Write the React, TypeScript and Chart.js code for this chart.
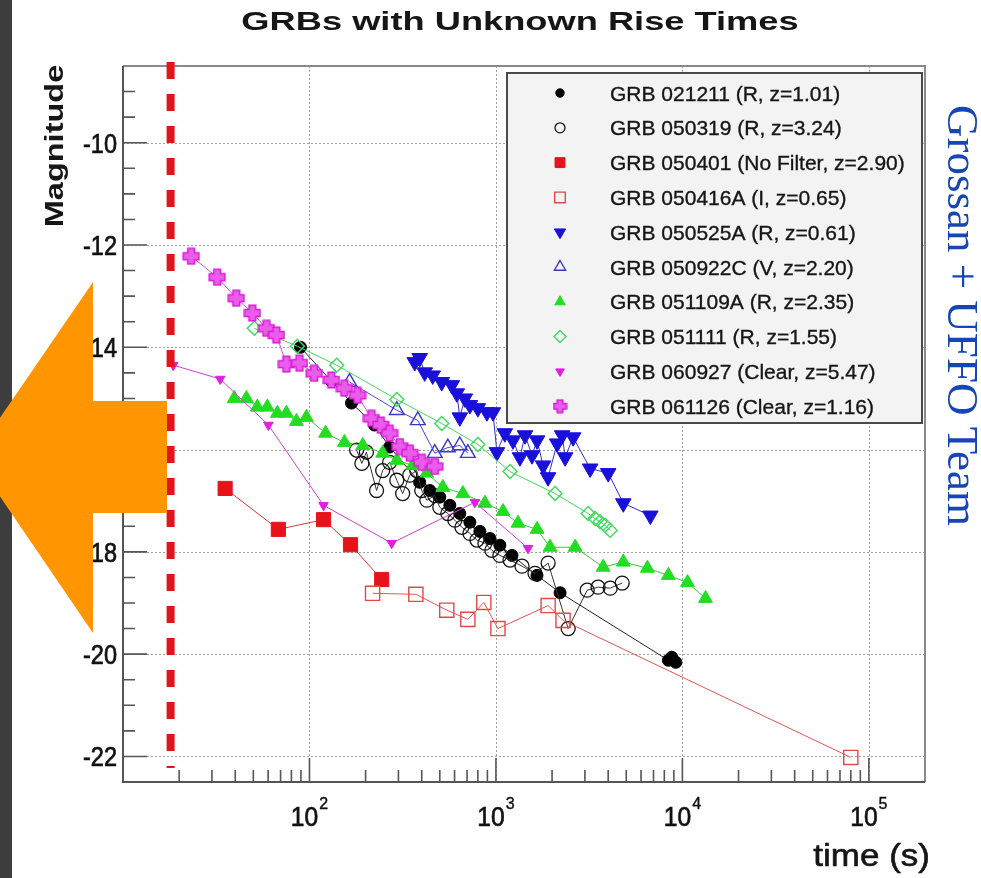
import React, { useEffect, useRef } from 'react';
import { Chart, registerables } from 'chart.js';

Chart.register(...registerables);

// ---------------- data ----------------
const SERIES_LABELS = [
  'GRB 021211 (R, z=1.01)',
  'GRB 050319 (R, z=3.24)',
  'GRB 050401 (No Filter, z=2.90)',
  'GRB 050416A (I, z=0.65)',
  'GRB 050525A (R, z=0.61)',
  'GRB 050922C (V, z=2.20)',
  'GRB 051109A (R, z=2.35)',
  'GRB 051111 (R, z=1.55)',
  'GRB 060927 (Clear, z=5.47)',
  'GRB 061126 (Clear, z=1.16)',
];

const T_021211 = [89.5, 131, 168, 223, 269, 390, 442, 500, 566, 640, 725, 820, 929, 1050, 1219, 1660, 2208, 8410, 8770, 9220];
const M_021211 = [-14.0, -14.66, -15.09, -15.52, -15.95, -16.64, -16.8, -16.93, -17.09, -17.25, -17.42, -17.6, -17.74, -17.87, -18.07, -18.46, -18.8, -20.12, -20.06, -20.16];

const T_050319 = [179, 191, 202, 229, 247, 269, 294, 316, 345, 376, 400, 426, 470, 500, 552, 602, 657, 725, 791, 873, 951, 1050, 1190, 1380, 1620, 1905, 2440, 3085, 3530, 4100, 4755];
const M_050319 = [-16.01, -16.27, -16.05, -16.8, -16.41, -16.25, -16.6, -16.86, -16.5, -16.41, -16.8, -16.99, -16.9, -17.13, -17.25, -17.38, -17.52, -17.64, -17.77, -17.83, -17.97, -18.07, -18.16, -18.28, -18.42, -18.22, -19.5, -18.75, -18.69, -18.71, -18.61];

const T_050401 = [35.3, 68.1, 119, 166, 244];
const M_050401 = [-16.76, -17.56, -17.37, -17.86, -18.54];

const T_050416A = [218, 372, 545, 707, 861, 1025, 1905, 2290, 80000];
const M_050416A = [-18.81, -18.83, -19.14, -19.32, -18.99, -19.5, -19.05, -19.34, -22.02];

const T_050525A = [367, 390, 415, 458, 512, 580, 617, 640, 681, 725, 800, 895, 964, 1012, 1116, 1234, 1345, 1432, 1562, 1662, 1790, 1904, 2130, 2265, 2350, 2595, 3200, 4000, 4820, 6730];
const M_050525A = [-14.29, -14.21, -14.49, -14.55, -14.68, -14.74, -14.9, -15.37, -15.0, -15.13, -15.19, -15.27, -15.27, -16.05, -15.68, -15.82, -16.15, -15.72, -16.11, -15.82, -16.31, -16.54, -15.88, -15.72, -16.15, -15.76, -16.37, -16.46, -17.05, -17.29];

const T_050922C = [164, 294, 381, 470, 552, 640, 707];
const M_050922C = [-14.68, -15.23, -15.43, -16.07, -15.96, -15.92, -16.07];

const T_051109A = [39.5, 45.9, 52.5, 59.4, 67.3, 75.2, 85.1, 96.3, 122, 154, 193, 247, 294, 358, 426, 519, 665, 873, 1091, 1313, 1662, 1950, 2660, 3760, 4820, 6490, 8410, 10650, 13300];
const M_051109A = [-15.0, -15.0, -15.17, -15.17, -15.29, -15.29, -15.45, -15.37, -15.68, -15.86, -15.92, -16.07, -16.21, -16.31, -16.46, -16.74, -16.86, -17.05, -17.21, -17.44, -17.56, -17.91, -17.91, -18.3, -18.2, -18.32, -18.46, -18.6, -18.91];

const T_051111 = [50.6, 86.1, 140, 294, 512, 800, 1190, 2075, 3125, 3405, 3620, 3850, 4100];
const M_051111 = [-13.63, -13.98, -14.35, -15.02, -15.49, -15.9, -16.43, -16.86, -17.25, -17.35, -17.41, -17.48, -17.58];

const T_060927 = [18.6, 33.2, 60.2, 119, 276, 771, 1486];
const M_060927 = [-14.35, -14.62, -15.52, -17.09, -17.83, -17.03, -17.93];

const T_061126 = [23.2, 32.0, 40.5, 49.4, 58.8, 66.5, 75.2, 88.4, 106, 131, 154, 181, 215, 241, 269, 305, 345, 400, 470];
const M_061126 = [-12.22, -12.63, -13.04, -13.33, -13.63, -13.76, -14.33, -14.31, -14.51, -14.64, -14.8, -14.94, -15.39, -15.52, -15.68, -15.94, -16.07, -16.25, -16.33];

const SERIES_T = [T_021211, T_050319, T_050401, T_050416A, T_050525A, T_050922C, T_051109A, T_051111, T_060927, T_061126];
const SERIES_M = [M_021211, M_050319, M_050401, M_050416A, M_050525A, M_050922C, M_051109A, M_051111, M_060927, M_061126];

const X_TICK_EXPONENTS = [2, 3, 4, 5];
const Y_TICK_VALUES = [-10, -12, -14, -16, -18, -20, -22];
const X_MIN = 10;
const X_MAX = 2e5;
const Y_MIN = -22.5;
const Y_MAX = -8.5;
const LIMIT_T = 18; // red dashed line (time, s)

const TITLE = 'GRBs with Unknown Rise Times';
const Y_TITLE = 'Magnitude';
const X_TITLE = 'time (s)';
const CREDIT = 'Grossan + UFFO Team';

// ---------------- styles ----------------
type Shape = 'circle' | 'rect' | 'triangle' | 'triangleDown' | 'rectRot' | 'cross';
interface Sty { shape: Shape; r: number; lr: number; fill: string | null; stroke: string; line: string; bw: number }
const STYLES: Sty[] = [
  { shape: 'circle', r: 6, lr: 4.2, fill: '#000000', stroke: '#000000', line: '#222222', bw: 1 },
  { shape: 'circle', r: 7, lr: 5, fill: null, stroke: '#111111', line: '#333333', bw: 1.3 },
  { shape: 'rect', r: 10, lr: 7, fill: '#e5141b', stroke: '#e5141b', line: '#e03535', bw: 1 },
  { shape: 'rect', r: 10, lr: 7.5, fill: null, stroke: '#e24848', line: '#e55555', bw: 1.4 },
  { shape: 'triangleDown', r: 9, lr: 6.5, fill: '#1a10dc', stroke: '#1a10dc', line: '#3030d0', bw: 1 },
  { shape: 'triangle', r: 8.5, lr: 6.5, fill: null, stroke: '#3a36d0', line: '#4a46d8', bw: 1.4 },
  { shape: 'triangle', r: 8, lr: 6, fill: '#22dd22', stroke: '#22dd22', line: '#33cc33', bw: 1 },
  { shape: 'rectRot', r: 7, lr: 6, fill: null, stroke: '#3ddc5a', line: '#44d860', bw: 1.4 },
  { shape: 'triangleDown', r: 5.5, lr: 5, fill: '#e020e0', stroke: '#e020e0', line: '#d040d0', bw: 1 },
  { shape: 'cross', r: 9, lr: 7, fill: '#ea5cea', stroke: '#d81cd8', line: '#d850d8', bw: 1.3 },
];

const FONT = "'Liberation Sans', Arial, Helvetica, sans-serif";

function makeCross(size: number, fill: string, stroke: string) {
  const c = document.createElement('canvas');
  c.width = size;
  c.height = size;
  const g = c.getContext('2d')!;
  const m = size / 2, L = size / 2 - 1.2, w = size * 0.19;
  g.beginPath();
  g.moveTo(m - w, m - L); g.lineTo(m + w, m - L); g.lineTo(m + w, m - w); g.lineTo(m + L, m - w);
  g.lineTo(m + L, m + w); g.lineTo(m + w, m + w); g.lineTo(m + w, m + L); g.lineTo(m - w, m + L);
  g.lineTo(m - w, m + w); g.lineTo(m - L, m + w); g.lineTo(m - L, m - w); g.lineTo(m - w, m - w);
  g.closePath();
  g.fillStyle = fill; g.fill();
  g.strokeStyle = stroke; g.lineWidth = 1.5; g.stroke();
  return c;
}

function drawMarker(ctx: CanvasRenderingContext2D, s: Sty, x: number, y: number, r: number, crossImg: HTMLCanvasElement | null) {
  if (s.shape === 'cross') {
    if (crossImg) ctx.drawImage(crossImg, x - crossImg.width / 2, y - crossImg.height / 2);
    return;
  }
  ctx.save();
  ctx.beginPath();
  if (s.shape === 'circle') ctx.arc(x, y, r, 0, Math.PI * 2);
  else if (s.shape === 'rect') { const h = r * Math.SQRT1_2; ctx.rect(x - h, y - h, 2 * h, 2 * h); }
  else if (s.shape === 'rectRot') { ctx.moveTo(x, y - r); ctx.lineTo(x + r, y); ctx.lineTo(x, y + r); ctx.lineTo(x - r, y); ctx.closePath(); }
  else {
    let rad = s.shape === 'triangleDown' ? Math.PI : 0;
    ctx.moveTo(x + Math.sin(rad) * r, y - Math.cos(rad) * r);
    rad += (2 * Math.PI) / 3;
    ctx.lineTo(x + Math.sin(rad) * r, y - Math.cos(rad) * r);
    rad += (2 * Math.PI) / 3;
    ctx.lineTo(x + Math.sin(rad) * r, y - Math.cos(rad) * r);
    ctx.closePath();
  }
  if (s.fill) { ctx.fillStyle = s.fill; ctx.fill(); }
  ctx.strokeStyle = s.stroke; ctx.lineWidth = s.bw; ctx.stroke();
  ctx.restore();
}

function text(ctx: CanvasRenderingContext2D, s: string, x: number, y: number, font: string, color: string,
  align: CanvasTextAlign, sx = 1, rot = 0, thick = 0) {
  ctx.save();
  ctx.translate(x, y);
  if (rot) ctx.rotate(rot);
  ctx.scale(sx, 1);
  ctx.font = font;
  ctx.fillStyle = color;
  ctx.textAlign = align;
  ctx.textBaseline = 'alphabetic';
  ctx.fillText(s, 0, 0);
  if (thick > 0) { ctx.strokeStyle = color; ctx.lineWidth = thick; ctx.strokeText(s, 0, 0); }
  ctx.restore();
}

export default function App() {
  const ref = useRef<HTMLCanvasElement | null>(null);

  useEffect(() => {
    if (!ref.current) return;
    const cross = makeCross(18, STYLES[9].fill as string, STYLES[9].stroke);
    const crossSmall = makeCross(15, STYLES[9].fill as string, STYLES[9].stroke);

    const datasets = SERIES_LABELS.map((label, i) => {
      const s = STYLES[i];
      const ps: any = s.shape === 'cross' ? cross : s.shape === 'triangleDown' ? 'triangle' : s.shape;
      return {
        label,
        data: SERIES_T[i].map((t, k) => ({ x: t, y: SERIES_M[i][k] })),
        showLine: true,
        borderColor: s.line,
        borderWidth: 1,
        pointStyle: ps,
        pointRotation: s.shape === 'triangleDown' ? 180 : 0,
        pointRadius: s.r,
        pointHoverRadius: s.r,
        pointBackgroundColor: s.fill || 'rgba(0,0,0,0)',
        pointBorderColor: s.stroke,
        pointBorderWidth: s.bw,
        tension: 0,
        order: 10 - i,
      };
    });

    const decor = {
      id: 'decor',
      beforeDraw(chart: any) {
        const ctx = chart.ctx as CanvasRenderingContext2D;
        ctx.save();
        ctx.fillStyle = '#ffffff';
        ctx.fillRect(0, 0, chart.width, chart.height);
        ctx.restore();
      },
      beforeDatasetsDraw(chart: any) {
        const ctx = chart.ctx as CanvasRenderingContext2D;
        const a = chart.chartArea;
        const xs = chart.scales.x, ys = chart.scales.y;
        ctx.save();
        ctx.strokeStyle = '#a0a0a0';
        ctx.lineWidth = 1;
        ctx.setLineDash([2, 2]);
        ctx.beginPath();
        for (const e of X_TICK_EXPONENTS) {
          const px = Math.round(xs.getPixelForValue(Math.pow(10, e))) + 0.5;
          ctx.moveTo(px, a.top); ctx.lineTo(px, a.bottom);
        }
        for (const v of Y_TICK_VALUES) {
          const py = Math.round(ys.getPixelForValue(v)) + 0.5;
          ctx.moveTo(a.left, py); ctx.lineTo(a.right, py);
        }
        ctx.stroke();
        ctx.restore();
      },
      afterDatasetsDraw(chart: any) {
        const ctx = chart.ctx as CanvasRenderingContext2D;
        const a = chart.chartArea;
        const xs = chart.scales.x, ys = chart.scales.y;

        // ticks (inside frame)
        ctx.save();
        ctx.strokeStyle = '#555555';
        ctx.lineWidth = 1.6;
        ctx.beginPath();
        for (let v = Y_MIN; v <= Y_MAX + 1e-6; v += 0.5) {
          const py = ys.getPixelForValue(v);
          const major = Math.abs(v % 2) < 1e-6;
          ctx.moveTo(a.left, py); ctx.lineTo(a.left + (major ? 24 : 12), py);
        }
        for (let k = 1; k <= 5; k++) {
          for (let m = 1; m <= 9; m++) {
            const v = m * Math.pow(10, k);
            if (v < X_MIN || v > X_MAX) continue;
            const px = xs.getPixelForValue(v);
            ctx.moveTo(px, a.bottom); ctx.lineTo(px, a.bottom - (m === 1 ? 24 : 12));
          }
        }
        ctx.stroke();
        ctx.restore();

        // frame
        ctx.save();
        ctx.lineWidth = 2;
        ctx.strokeStyle = '#8a8a8a';
        ctx.beginPath();
        ctx.moveTo(a.left, a.top); ctx.lineTo(a.right, a.top); ctx.lineTo(a.right, a.bottom);
        ctx.stroke();
        ctx.strokeStyle = '#555555';
        ctx.beginPath();
        ctx.moveTo(a.left, a.top); ctx.lineTo(a.left, a.bottom); ctx.lineTo(a.right, a.bottom);
        ctx.stroke();
        ctx.restore();

        // y tick labels
        for (const v of Y_TICK_VALUES) {
          const py = ys.getPixelForValue(v);
          text(ctx, String(v), 117, py + 10, `27px ${FONT}`, '#111111', 'right', 0.87, 0, 0.7);
        }
        // x tick labels
        for (const e of X_TICK_EXPONENTS) {
          const px = xs.getPixelForValue(Math.pow(10, e));
          ctx.save();
          ctx.font = `28px ${FONT}`;
          const w1 = ctx.measureText('10').width * 0.88;
          ctx.font = `16px ${FONT}`;
          const w2 = ctx.measureText(String(e)).width;
          ctx.restore();
          const start = px - (w1 + w2 + 1) / 2;
          text(ctx, '10', start, 826, `28px ${FONT}`, '#111111', 'left', 0.88, 0, 0.7);
          text(ctx, String(e), start + w1 + 1, 809, `16px ${FONT}`, '#111111', 'left', 1, 0, 0.4);
        }

        // red dashed line
        ctx.save();
        const lx = xs.getPixelForValue(LIMIT_T);
        ctx.strokeStyle = '#e8121a';
        ctx.lineWidth = 8;
        ctx.setLineDash([17, 15]);
        ctx.beginPath();
        ctx.moveTo(lx, 62); ctx.lineTo(lx, 768);
        ctx.stroke();
        ctx.restore();

        // legend box
        ctx.save();
        ctx.fillStyle = '#f3f3f3';
        ctx.fillRect(507, 73, 415, 350);
        ctx.strokeStyle = '#4a4a4a';
        ctx.lineWidth = 2;
        ctx.strokeRect(507, 73, 415, 350);
        ctx.restore();
        SERIES_LABELS.forEach((lab, i) => {
          const yc = 93 + 34.8 * i;
          const s = STYLES[i];
          drawMarker(ctx, s, 560, yc, s.lr, crossSmall);
          text(ctx, lab, 610, yc + 7.5, `21px ${FONT}`, '#161616', 'left', 1, 0, 0.35);
        });

        // titles
        text(ctx, TITLE, 520, 30, `bold 25px ${FONT}`, '#161616', 'center', 1.45);
        text(ctx, Y_TITLE, 63, 146, `bold 25px ${FONT}`, '#161616', 'center', 1.3, -Math.PI / 2);
        text(ctx, X_TITLE, 930, 866, `31px ${FONT}`, '#161616', 'right', 1.13, 0, 0.6);
        text(ctx, CREDIT, 948, 105, `45px 'Liberation Serif', 'Times New Roman', serif`, '#1746b4', 'left', 1, Math.PI / 2);

        // dark side bar and orange arrow overlay
        ctx.save();
        ctx.fillStyle = '#3d3d3d';
        ctx.fillRect(0, 0, 12, chart.height);
        ctx.fillStyle = '#ff9500';
        ctx.beginPath();
        ctx.moveTo(-27, 457);
        ctx.lineTo(93, 282);
        ctx.lineTo(93, 401);
        ctx.lineTo(167, 401);
        ctx.lineTo(167, 513);
        ctx.lineTo(93, 513);
        ctx.lineTo(93, 633);
        ctx.closePath();
        ctx.fill();
        ctx.restore();
      },
    };

    const chart = new Chart(ref.current, {
      type: 'scatter',
      data: { datasets: datasets as any },
      options: {
        responsive: false,
        animation: false,
        devicePixelRatio: 1,
        layout: { padding: { left: 123, top: 66, right: 56, bottom: 96 } },
        scales: {
          x: { type: 'logarithmic', min: X_MIN, max: X_MAX, display: false },
          y: { type: 'linear', min: Y_MIN, max: Y_MAX, display: false },
        },
        plugins: { legend: { display: false }, tooltip: { enabled: false }, title: { display: false } },
      } as any,
      plugins: [decor],
    });
    return () => chart.destroy();
  }, []);

  return (
    <div style={{ position: 'absolute', left: 0, top: 0, width: 981, height: 878, background: '#fff' }}>
      <canvas ref={ref} width={981} height={878} style={{ display: 'block', width: 981, height: 878 }} />
    </div>
  );
}
